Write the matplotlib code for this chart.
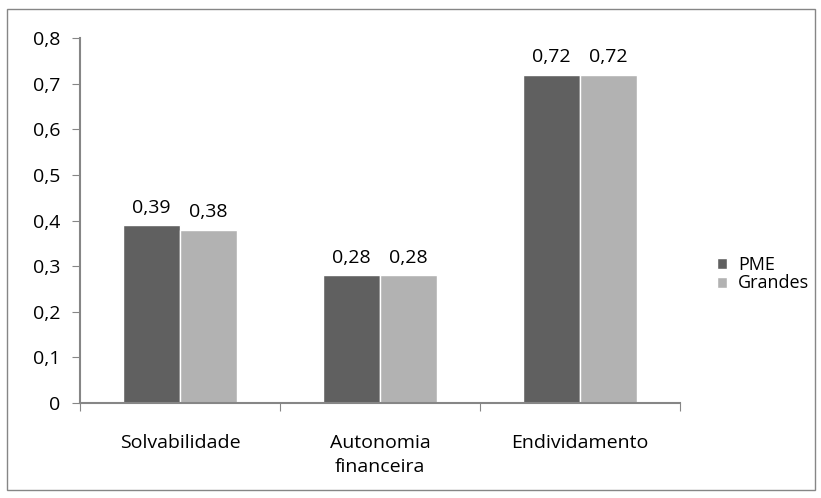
import matplotlib.pyplot as plt
import numpy as np
from matplotlib.patches import Rectangle

categorias = ['Solvabilidade', 'Autonomia\nfinanceira', 'Endividamento']
pme = [0.39, 0.28, 0.72]
grandes = [0.38, 0.28, 0.72]
series = ['PME', 'Grandes']

plt.rcParams['font.family'] = ['Open Sans', 'DejaVu Sans']
fs = 14

fig = plt.figure(figsize=(8.21, 4.98), dpi=100)
W, H = 821, 498
ax = fig.add_axes([80 / W, 1 - 403 / H, 600 / W, 365 / H])

# moldura exterior
fig.patches.append(Rectangle((7 / W, 8 / H), 808 / W, 481 / H, transform=fig.transFigure,
                             fill=False, edgecolor='#868686', linewidth=1))

x = np.arange(len(categorias))
largura = 0.285
b1 = ax.bar(x - largura / 2, pme, largura, color='#606060', edgecolor='white', linewidth=1, label=series[0])
b2 = ax.bar(x + largura / 2, grandes, largura, color='#b2b2b2', edgecolor='white', linewidth=1, label=series[1])

for barras in (b1, b2):
    for b in barras:
        ax.text(b.get_x() + b.get_width() / 2, b.get_height() + 0.018,
                f'{b.get_height():.2f}'.replace('.', ','), ha='center', va='bottom', fontsize=fs)

ax.set_xlim(-0.5, 2.5)
ax.set_ylim(0, 0.8)
ax.set_yticks(np.arange(0, 0.81, 0.1))
ax.set_yticklabels(['0'] + [f'{v:.1f}'.replace('.', ',') for v in np.arange(0.1, 0.81, 0.1)], fontsize=fs)
ax.set_xticks([-0.5, 0.5, 1.5, 2.5])
ax.set_xticklabels([])
ax.set_xticks(x, minor=True)
ax.set_xticklabels(categorias, minor=True, fontsize=fs, linespacing=1.45)
ax.tick_params(axis='x', which='minor', length=0, pad=22)
ax.tick_params(axis='x', which='major', length=6, color='#868686')
ax.tick_params(axis='y', length=6, color='#868686', pad=8)

for s in ['top', 'right']:
    ax.spines[s].set_visible(False)
for s in ['left', 'bottom']:
    ax.spines[s].set_color('#868686')
    ax.spines[s].set_linewidth(1.5)

fig.legend(loc='center left', bbox_to_anchor=(701 / W, 1 - 274 / H), frameon=False,
           fontsize=13, handlelength=0.55, handleheight=0.55, handletextpad=0.6, labelspacing=0.05)

fig.savefig('out.png', dpi=100)
